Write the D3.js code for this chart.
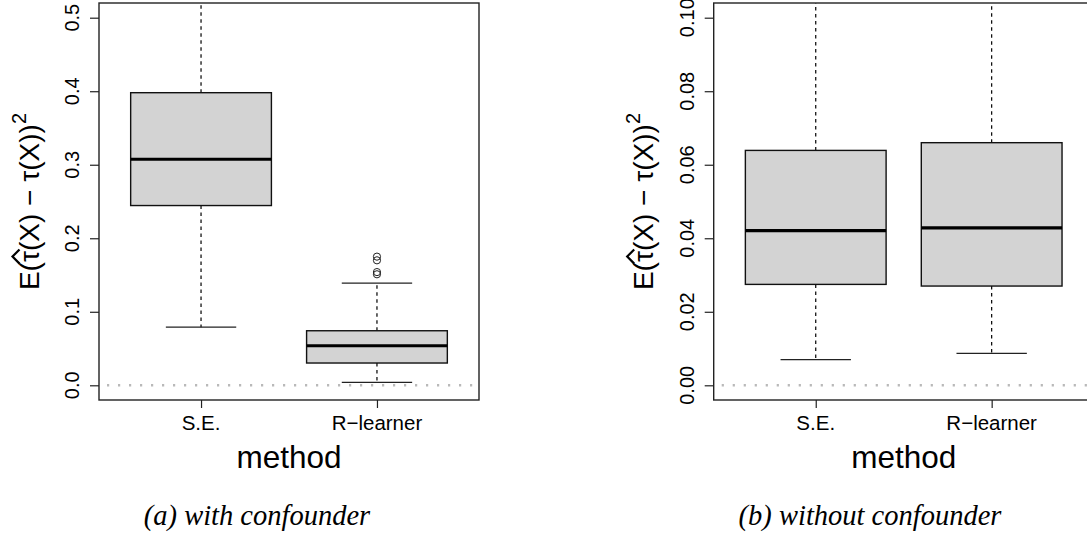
<!DOCTYPE html>
<html>
<head>
<meta charset="utf-8">
<script src="https://cdn.jsdelivr.net/npm/d3@7"></script>
<style>
  html, body { margin: 0; padding: 0; background: #fff; }
  svg { display: block; }
</style>
</head>
<body>
<svg id="chart" width="1087" height="535"></svg>
<script>
// ---------- data ----------
const methods = ["S.E.", "R\u2212learner"];
const xPositions = [1, 2];

// (a) with confounder
const confWhiskerLow  = [0.079, 0.004];
const confQ1          = [0.2445, 0.0303];
const confMedian      = [0.3075, 0.0538];
const confQ3          = [0.398, 0.0742];
const confWhiskerHigh = [0.60, 0.139];
const confOutliers    = [[], [0.151, 0.154, 0.170, 0.175]];
const confTicks       = [0.0, 0.1, 0.2, 0.3, 0.4, 0.5];
const confTickLabels  = ["0.0", "0.1", "0.2", "0.3", "0.4", "0.5"];
const confYLim        = [0, 0.5];

// (b) without confounder
const noConfWhiskerLow  = [0.0070, 0.0087];
const noConfQ1          = [0.02745, 0.0270];
const noConfMedian      = [0.0421, 0.0428];
const noConfQ3          = [0.0639, 0.0660];
const noConfWhiskerHigh = [0.118, 0.121];
const noConfOutliers    = [[], []];
const noConfTicks       = [0.00, 0.02, 0.04, 0.06, 0.08, 0.10];
const noConfTickLabels  = ["0.00", "0.02", "0.04", "0.06", "0.08", "0.10"];
const noConfYLim        = [0, 0.1];

const xLabel = "method";
const yLabelMain = "E(\u03C4(X) \u2212 \u03C4(X))";
const yLabelSup = "2";
const captions = ["(a) with confounder", "(b) without confounder"];

// ---------- drawing ----------
const svg = d3.select("#chart");
const SANS = "'Liberation Sans', Arial, Helvetica, sans-serif";

function panel(opts) {
  const { left, top, width, height, low, q1, med, q3, high, outliers,
          ticks, tickLabels, ylim, caption, captionX, id } = opts;
  const ext = (ylim[1] - ylim[0]) * 0.04;
  const y = d3.scaleLinear().domain([ylim[0] - ext, ylim[1] + ext]).range([top + height, top]);
  const x = d3.scaleLinear().domain([0.5 - 0.08, 2.5 + 0.08]).range([left, left + width]);
  const g = svg.append("g");

  svg.append("clipPath").attr("id", id).append("rect")
    .attr("x", left).attr("y", top).attr("width", width).attr("height", height);
  const pg = g.append("g").attr("clip-path", `url(#${id})`);

  // zero reference line
  pg.append("line")
    .attr("x1", left).attr("x2", left + width)
    .attr("y1", y(0)).attr("y2", y(0))
    .attr("stroke", "#b9b9b9").attr("stroke-width", 2.4)
    .attr("stroke-dasharray", "2.2,8.8").attr("stroke-dashoffset", -8);

  const boxHalf = x(1.4) - x(1);
  const capHalf = x(1.2) - x(1);
  xPositions.forEach((xp, i) => {
    const cx = x(xp);
    // whiskers (dashed)
    pg.append("line").attr("x1", cx).attr("x2", cx).attr("y1", y(q3[i])).attr("y2", y(high[i]))
      .attr("stroke", "#000").attr("stroke-width", 1.2).attr("stroke-dasharray", "3.5,3.5");
    pg.append("line").attr("x1", cx).attr("x2", cx).attr("y1", y(q1[i])).attr("y2", y(low[i]))
      .attr("stroke", "#000").attr("stroke-width", 1.2).attr("stroke-dasharray", "3.5,3.5");
    // staples
    [low[i], high[i]].forEach(v => {
      pg.append("line").attr("x1", cx - capHalf).attr("x2", cx + capHalf)
        .attr("y1", y(v)).attr("y2", y(v))
        .attr("stroke", "#222").attr("stroke-width", 1.2);
    });
    // box
    pg.append("rect")
      .attr("x", cx - boxHalf).attr("width", 2 * boxHalf)
      .attr("y", y(q3[i])).attr("height", y(q1[i]) - y(q3[i]))
      .attr("fill", "#d3d3d3").attr("stroke", "#111").attr("stroke-width", 1.4);
    // median
    pg.append("line").attr("x1", cx - boxHalf).attr("x2", cx + boxHalf)
      .attr("y1", y(med[i])).attr("y2", y(med[i]))
      .attr("stroke", "#000").attr("stroke-width", 3.2);
    // outliers
    outliers[i].forEach(v => {
      pg.append("circle").attr("cx", cx).attr("cy", y(v)).attr("r", 3.6)
        .attr("fill", "none").attr("stroke", "#222").attr("stroke-width", 1);
    });
  });

  // plot border
  g.append("rect").attr("x", left).attr("y", top).attr("width", width).attr("height", height)
    .attr("fill", "none").attr("stroke", "#222").attr("stroke-width", 1.4);

  // y axis ticks
  const yAxis = d3.axisLeft(y).tickValues(ticks).tickSize(9).tickFormat("");
  const ya = g.append("g").attr("transform", `translate(${left},0)`).call(yAxis);
  ya.select(".domain").remove();
  ya.selectAll(".tick line").attr("stroke", "#222").attr("stroke-width", 1.2);
  ticks.forEach((t, i) => {
    g.append("text")
      .attr("transform", `translate(${left - 20},${y(t)}) rotate(-90)`)
      .attr("text-anchor", "middle")
      .attr("font-family", SANS).attr("font-size", 20).attr("fill", "#000")
      .text(tickLabels[i]);
  });

  // x axis ticks
  const xAxis = d3.axisBottom(x).tickValues(xPositions).tickSize(8).tickFormat("");
  const xa = g.append("g").attr("transform", `translate(0,${top + height})`).call(xAxis);
  xa.select(".domain").remove();
  xa.selectAll(".tick line").attr("stroke", "#222").attr("stroke-width", 1.2);
  xPositions.forEach((xp, i) => {
    g.append("text").attr("x", x(xp)).attr("y", top + height + 30)
      .attr("text-anchor", "middle")
      .attr("font-family", SANS).attr("font-size", 20.5).attr("fill", "#000")
      .text(methods[i]);
  });

  // x label
  g.append("text").attr("x", left + width / 2).attr("y", top + height + 68)
    .attr("text-anchor", "middle")
    .attr("font-family", SANS).attr("font-size", 31.5).attr("fill", "#000")
    .text(xLabel);

  // y label: E(τ̂(X) − τ(X))²  (hat drawn as a path over the first τ)
  const lg = g.append("g")
    .attr("transform", `translate(${left - 60.5},${top + height / 2}) rotate(-90)`);
  const yl = lg.append("text")
    .attr("font-family", SANS).attr("font-size", 28).attr("fill", "#000");
  yl.append("tspan").text(yLabelMain);
  yl.append("tspan").attr("font-size", 20).attr("dy", -13).text(yLabelSup);
  const total = yl.node().getComputedTextLength();
  yl.attr("x", -total / 2);
  const mainNode = yl.select("tspan").node();
  const tauStart = mainNode.getStartPositionOfChar(2).x;
  const tauEnd = mainNode.getEndPositionOfChar(2).x;
  const tc = (tauStart + tauEnd) / 2;
  const hw = (tauEnd - tauStart) * 0.55 + 1;
  lg.append("path")
    .attr("d", d3.line()([[tc - hw, -19], [tc, -26], [tc + hw, -19]]))
    .attr("fill", "none").attr("stroke", "#000").attr("stroke-width", 2.2);

  // caption
  svg.append("text").attr("x", captionX).attr("y", 525)
    .attr("text-anchor", "middle")
    .attr("font-family", "'Liberation Serif', 'Times New Roman', serif")
    .attr("font-style", "italic").attr("font-size", 28.5).attr("fill", "#000")
    .text(caption);
}

panel({
  id: "clipA", left: 99, top: 3, width: 380, height: 397,
  low: confWhiskerLow, q1: confQ1, med: confMedian, q3: confQ3, high: confWhiskerHigh,
  outliers: confOutliers, ticks: confTicks, tickLabels: confTickLabels, ylim: confYLim,
  caption: captions[0], captionX: 257
});
panel({
  id: "clipB", left: 713.7, top: 3, width: 380, height: 397,
  low: noConfWhiskerLow, q1: noConfQ1, med: noConfMedian, q3: noConfQ3, high: noConfWhiskerHigh,
  outliers: noConfOutliers, ticks: noConfTicks, tickLabels: noConfTickLabels, ylim: noConfYLim,
  caption: captions[1], captionX: 870
});
</script>
</body>
</html>
